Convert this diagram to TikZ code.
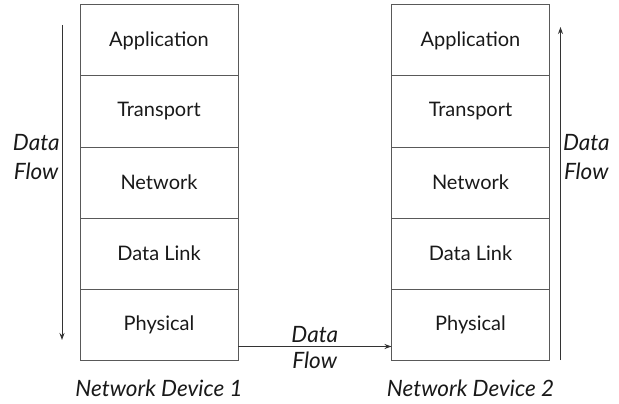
\documentclass[tikz,border=0pt]{standalone}
\usepackage{fontspec}
\setmainfont{Lato}
\usetikzlibrary{positioning, arrows.meta}

\tikzset{
  layer/.style={draw=black!65, line width=1pt, minimum width=158pt,
    minimum height=71pt, inner sep=0pt, outer sep=0pt,
    text=black!90, font=\fontsize{20}{24}\selectfont},
  flow/.style={->, line width=1pt, black!80},
  lbl/.style={text=black!90, font=\fontsize{22.5}{27}\selectfont\itshape, align=center},
}

\begin{document}
\begin{tikzpicture}[x=1pt, y=-1pt, >={Stealth[length=7pt, width=5pt]}]
  \useasboundingbox (0,0) rectangle (619,404);

  % one protocol stack per device
  \foreach \d/\x in {1/159, 2/470.5} {
    \node[layer] (app\d) at (\x,40.5) {Application};
    \node[layer, below=0pt of app\d] (trans\d) {Transport};
    \node[layer, below=0pt of trans\d] (net\d) {Network};
    \node[layer, below=0pt of net\d] (link\d) {Data Link};
    \node[layer, below=0pt of link\d] (phys\d) {Physical};
    \node[lbl] (dev\d) at ([yshift=-28pt]phys\d.south) {Network Device \d};
  }

  % down the sender, across the wire, up the receiver
  \draw[flow] ([xshift=-18pt, yshift=-20pt]app1.north west)
    -- node[lbl, left, pos=0.42, inner sep=2pt] {Data\\[2pt]Flow}
    ([xshift=-18pt, yshift=20pt]phys1.south west);
  \draw[flow] ([yshift=-22pt]phys1.east)
    -- node[lbl, above, inner sep=3pt] {Data} node[lbl, below, inner sep=5pt] {Flow}
    ([yshift=-22pt]phys2.west);
  \draw[flow] ([xshift=11pt]phys2.south east)
    -- node[lbl, right, pos=0.61, inner sep=2pt] {Data\\[2pt]Flow}
    ([xshift=11pt, yshift=-22pt]app2.north east);
\end{tikzpicture}
\end{document}
